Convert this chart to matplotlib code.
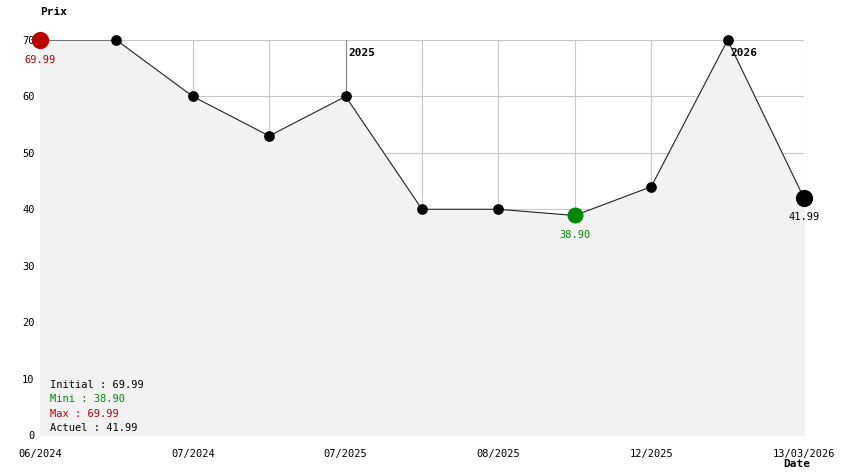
import matplotlib.pyplot as plt

# données
prix = [69.99, 69.99, 60, 53, 60, 40, 40, 38.9, 44, 69.99, 41.99]
tick_pos = [0, 2, 4, 6, 8, 10]
tick_labels = ['06/2024', '07/2024', '07/2025', '08/2025', '12/2025', '13/03/2026']
annees = [(4, '2025'), (9, '2026')]

plt.rcParams['font.family'] = 'DejaVu Sans Mono'
plt.rcParams['font.size'] = 7.5

fig = plt.figure(figsize=(8.44, 4.74), dpi=100)
ax = fig.add_axes([40 / 844, 39 / 474, 764 / 844, 395 / 474])
x = list(range(len(prix)))

# la zone grise recouvre la grille
ax.fill_between(x, prix, 0, color='#f2f2f2', zorder=2)
for i in x[1:]:
    ax.axvline(i, color='#c8c8c8', lw=0.8, zorder=1)
for v in range(10, 71, 10):
    ax.axhline(v, color='#c8c8c8', lw=0.8, zorder=1)
for i, a in annees:
    ax.axvline(i, color='#888888', lw=0.8, zorder=1)
    ax.text(i + 0.04, 68.5, a, fontweight='bold', fontsize=8, va='top', zorder=5)

ax.plot(x, prix, color='#222222', lw=0.8, zorder=3)
ax.scatter(x[1:-1], prix[1:-1], s=45, color='black', zorder=4, clip_on=False)
imin = prix.index(min(prix))
ax.scatter([0], [prix[0]], s=130, color='#bb0000', zorder=4, clip_on=False)
ax.scatter([imin], [prix[imin]], s=110, color='#008800', zorder=4, clip_on=False)
ax.scatter([x[-1]], [prix[-1]], s=130, color='black', zorder=4, clip_on=False)
ax.text(0, prix[0] - 3.5, f'{prix[0]:.2f}', color='#bb0000', ha='center', va='center', zorder=5)
ax.text(imin, prix[imin] - 3.5, f'{prix[imin]:.2f}', color='#008800', ha='center', va='center', zorder=5)
ax.text(x[-1], prix[-1] - 3.3, f'{prix[-1]:.2f}', color='black', ha='center', va='center', zorder=5)

stats = [('Initial : 69.99', 'black'), ('Mini : 38.90', '#008800'),
         ('Max : 69.99', '#bb0000'), ('Actuel : 41.99', 'black')]
for k, (t, c) in enumerate(stats):
    ax.text(0.13, 8.8 - k * 2.5, t, color=c, va='center', zorder=5)

ax.set_xlim(0, 10)
ax.set_ylim(0, 70)
ax.set_yticks(range(0, 71, 10))
ax.set_xticks(tick_pos)
ax.set_xticklabels(tick_labels)
ax.tick_params(length=0, pad=10)
ax.tick_params(axis='y', pad=4)
for s in ax.spines.values():
    s.set_visible(False)
fig.text(40 / 844, 1 - 12 / 474, 'Prix', fontweight='bold', fontsize=8, va='center')
fig.text(783 / 844, 1 - 464 / 474, 'Date', fontweight='bold', fontsize=8, va='center')

plt.savefig('out.png')
